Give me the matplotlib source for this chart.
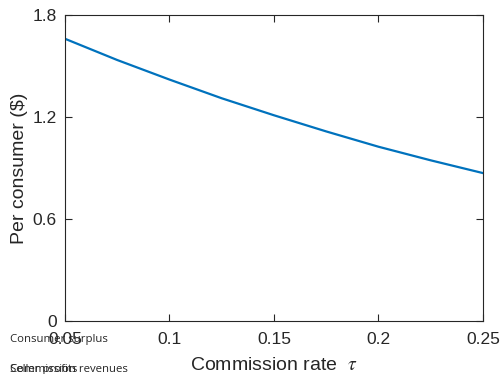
import matplotlib.pyplot as plt

# commission rate vs per-consumer value
tau = [0.05, 0.075, 0.1, 0.125, 0.15, 0.175, 0.2, 0.225, 0.25]
per_consumer = [1.66, 1.535, 1.42, 1.31, 1.21, 1.115, 1.025, 0.945, 0.87]
xticks = [0.05, 0.1, 0.15, 0.2, 0.25]
xticklabels = ["0.05", "0.1", "0.15", "0.2", "0.25"]
yticks = [0, 0.6, 1.2, 1.8]
yticklabels = ["0", "0.6", "1.2", "1.8"]
legend_labels = ["Consumer surplus", "Seller profits", "Commission revenues"]

plt.rcParams['font.family'] = ['Liberation Sans', 'DejaVu Sans']
plt.rcParams['mathtext.fontset'] = 'stix'
txt = '#262626'

fig = plt.figure(figsize=(5.01, 3.74), dpi=100)
ax = fig.add_axes([0.1297, 0.1417, 0.8343, 0.8183])
ax.plot(tau, per_consumer, color='#0072BD', lw=1.6)
ax.set_xlim(0.05, 0.25)
ax.set_ylim(0, 1.8)
ax.set_xticks(xticks)
ax.set_xticklabels(xticklabels)
ax.set_yticks(yticks)
ax.set_yticklabels(yticklabels)
ax.tick_params(direction='in', top=True, right=True, length=5, width=0.8,
               colors=txt, labelsize=12.5)
ax.tick_params(axis='x', pad=8)
ax.tick_params(axis='y', pad=6)
for s in ax.spines.values():
    s.set_color(txt)
    s.set_linewidth(0.8)
ax.set_xlabel("Commission rate  $\\tau$", fontsize=14, color=txt, labelpad=7)
ax.set_ylabel("Per consumer ($)", fontsize=14, color=txt, labelpad=3)

# stray legend labels left in the figure corner
fig.text(10 / 501, 1 - 342 / 374, legend_labels[0], fontsize=8.2,
         family='Open Sans', color=txt)
fig.text(10 / 501, 1 - 372 / 374, legend_labels[1], fontsize=8.2,
         family='Open Sans', color=txt)
fig.text(10 / 501, 1 - 372 / 374, legend_labels[2], fontsize=8.2,
         family='Open Sans', color=txt)

fig.savefig("out.png", dpi=100)
